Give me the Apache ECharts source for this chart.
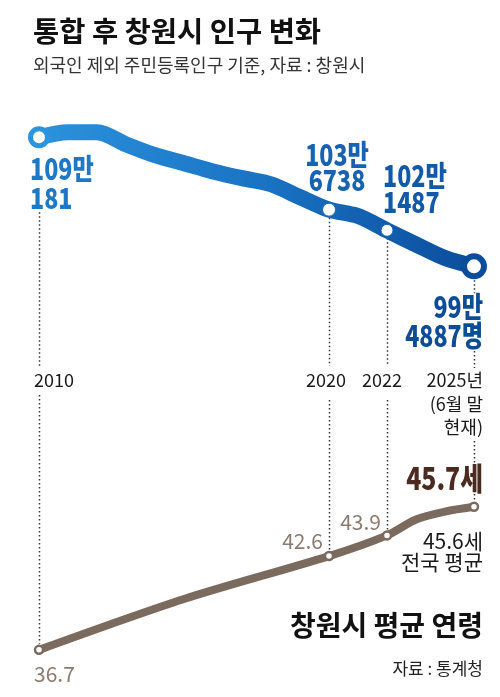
<!DOCTYPE html>
<html>
<head>
<meta charset="utf-8">
<script src="https://cdn.jsdelivr.net/npm/echarts@6/dist/echarts.min.js"></script>
<style>
html,body{margin:0;padding:0;background:#fff;}
#c{width:500px;height:697px;}
</style>
</head>
<body>
<div id="c"></div>
<script>
// ---------- data ----------
const years = [2010, 2011, 2012, 2013, 2014, 2015, 2016, 2017, 2018, 2019, 2020, 2021, 2022, 2023, 2024, 2025];
// 창원시 인구 (만 명, 외국인 제외)
const population = [109.0181, 109.4, 109.4, 108.5, 107.7, 107.1, 106.5, 106.0, 105.55, 104.6, 103.6738, 103.2, 102.1487, 101.1, 100.1, 99.4887];
const ageYears = [2010, 2015, 2020, 2022, 2023, 2024, 2025];
const avgAge = [36.7, 39.9, 42.6, 43.9, 44.9, 45.4, 45.7];
const keyYears = [2010, 2020, 2022, 2025];
const popLabels = [['109만', '181'], ['103만', '6738'], ['102만', '1487'], ['99만', '4887명']];
const yearLabels = [['2010'], ['2020'], ['2022'], ['2025년', '(6월 말', '현재)']];
const ageLabels = ['36.7', '42.6', '43.9', '45.7세'];
const nationalAge = ['45.6세', '전국 평균'];
const titleText = '통합 후 창원시 인구 변화';
const subText = '외국인 제외 주민등록인구 기준, 자료 : 창원시';
const ageTitle = '창원시 평균 연령';
const ageSource = '자료 : 통계청';

// ---------- styles ----------
const KR = "'Noto Sans CJK KR', 'Noto Sans', sans-serif";
const popMarkerStyle = {
  2010: {size: 17, border: '#2c93dd', bw: 5},
  2020: {size: 13, border: '#1966b5', bw: 1},
  2022: {size: 12, border: '#1360af', bw: 1},
  2025: {size: 20, border: '#0b4c9b', bw: 6}
};
const popLabelLayout = [
  {dx: -9, dy: [31.5, 60.5], align: 'left', color: '#1d78c6'},
  {dx: 8, dy: [-55, -29.5], align: 'center', color: '#1763b1'},
  {dx: -4, dy: [-54, -28.5], align: 'left', color: '#125aa8'},
  {dx: 9, dy: [41, 69.5], align: 'right', color: '#0d4c97'}
];
const yearLabelLayout = [
  {dx: -5, align: 'left'},
  {dx: -3, align: 'center'},
  {dx: -5, align: 'center'},
  {dx: 9, align: 'right'}
];
const ageLabelLayout = [
  {dx: -5, dy: 24.5, align: 'left', font: '21px ' + KR, color: '#8a7b70', sx: 1},
  {dx: -6, dy: -15.5, align: 'right', font: '21px ' + KR, color: '#8a7b70', sx: 1},
  {dx: -6, dy: -13.5, align: 'right', font: '21px ' + KR, color: '#8a7b70', sx: 1},
  {dx: 9, dy: -28.5, align: 'right', font: '900 31px ' + KR, color: '#4b2b20', sx: 0.8}
];

const chart = echarts.init(document.getElementById('c'));
const blueGrad = new echarts.graphic.LinearGradient(0, 0, 1, 0, [
  {offset: 0, color: '#2c93dd'},
  {offset: 0.5, color: '#1a74c4'},
  {offset: 1, color: '#0b4c9b'}
]);
const AGE_COLOR = '#7b6b5e';

const popData = years.map((y, i) => {
  const m = popMarkerStyle[y];
  if (!m) return {value: [y, population[i]], symbol: 'none'};
  return {
    value: [y, population[i]], symbol: 'circle', symbolSize: m.size,
    itemStyle: {color: '#fff', borderColor: m.border, borderWidth: m.bw}
  };
});
const ageData = ageYears.map((y, i) => {
  if (keyYears.indexOf(y) < 0) return {value: [y, avgAge[i]], symbol: 'none'};
  return {
    value: [y, avgAge[i]], symbol: 'circle', symbolSize: 8,
    itemStyle: {color: '#fff', borderColor: AGE_COLOR, borderWidth: 2.5}
  };
});

const option = {
  animation: false,
  backgroundColor: '#fff',
  title: {
    text: titleText,
    subtext: subText,
    left: 28, top: 12,
    itemGap: 11,
    textStyle: {fontFamily: KR, fontWeight: 'bold', fontSize: 28.5, color: '#111'},
    subtextStyle: {fontFamily: KR, fontSize: 18, color: '#333'}
  },
  grid: [
    {left: 39, right: 26, top: 124, height: 162.5},
    {left: 39, right: 26, top: 502, height: 159}
  ],
  xAxis: [
    {type: 'value', gridIndex: 0, min: 2010, max: 2025, show: false},
    {type: 'value', gridIndex: 1, min: 2010, max: 2025, show: false}
  ],
  yAxis: [
    {type: 'value', gridIndex: 0, min: 98, max: 110, show: false},
    {type: 'value', gridIndex: 1, min: 36, max: 46, show: false}
  ],
  series: [
    {
      name: '인구', type: 'line', xAxisIndex: 0, yAxisIndex: 0,
      data: popData, smooth: 0.3, showSymbol: true,
      lineStyle: {width: 16, color: blueGrad, cap: 'round', join: 'round'},
      z: 3
    },
    {
      name: '평균 연령', type: 'line', xAxisIndex: 1, yAxisIndex: 1,
      data: ageData, smooth: 0.3, showSymbol: true,
      lineStyle: {width: 8, color: AGE_COLOR, cap: 'round', join: 'round'},
      z: 3
    }
  ]
};
chart.setOption(option);

// ---------- annotations positioned through the chart's scales ----------
const P = (g, x, y) => chart.convertToPixel({gridIndex: g}, [x, y]);
const els = [];
const txt = (x, y, text, font, fill, align, sx) => els.push({
  type: 'text', x: x, y: y, z: 10, scaleX: sx || 1,
  style: {text: text, font: font, fill: fill, align: align, verticalAlign: 'middle'}
});
const dots = (x, y1, y2) => {
  if (y2 <= y1) return;
  els.push({
    type: 'line', z: 1,
    shape: {x1: x, y1: y1, x2: x, y2: y2},
    style: {stroke: '#333', lineWidth: 1.5, lineDash: [1.5, 2.5]}
  });
};

keyYears.forEach((yr, i) => {
  const pt = P(0, yr, population[years.indexOf(yr)]);
  const pa = P(1, yr, avgAge[ageYears.indexOf(yr)]);
  const L = popLabelLayout[i];
  popLabels[i].forEach((line, k) => {
    txt(pt[0] + L.dx, pt[1] + L.dy[k], line, '900 29px ' + KR, L.color, L.align, 0.8);
  });
  const Y = yearLabelLayout[i];
  yearLabels[i].forEach((line, k) => {
    txt(pt[0] + Y.dx, 380.5 + k * 23.5, line, '18px ' + KR, '#1a1a1a', Y.align);
  });
  const A = ageLabelLayout[i];
  txt(pa[0] + A.dx, pa[1] + A.dy, ageLabels[i], A.font, A.color, A.align, A.sx);

  // dotted guide lines
  const x = Math.round(pt[0]) + 0.5;
  if (i === 0) {
    dots(x, pt[1] + 75, 366); dots(x, 395, pa[1] - 6);
  } else if (i < 3) {
    dots(x, pt[1] + 8, 366); dots(x, 400, pa[1] - 6);
  } else {
    dots(x, pt[1] + 14, pt[1] + 27); dots(x, 351, 368); dots(x, 441, 464); dots(x, 494, pa[1] - 6);
  }
});

const last = P(1, 2025, avgAge[avgAge.length - 1]);
const rightX = last[0] + 9;
txt(rightX, 541, nationalAge[0], '21px ' + KR, '#1a1a1a', 'right');
txt(rightX, 562.5, nationalAge[1], '21px ' + KR, '#1a1a1a', 'right');
txt(rightX, 625, ageTitle, 'bold 28px ' + KR, '#111', 'right');
txt(rightX, 669, ageSource, '17px ' + KR, '#222', 'right');

chart.setOption({graphic: {elements: els}});
</script>
</body>
</html>
